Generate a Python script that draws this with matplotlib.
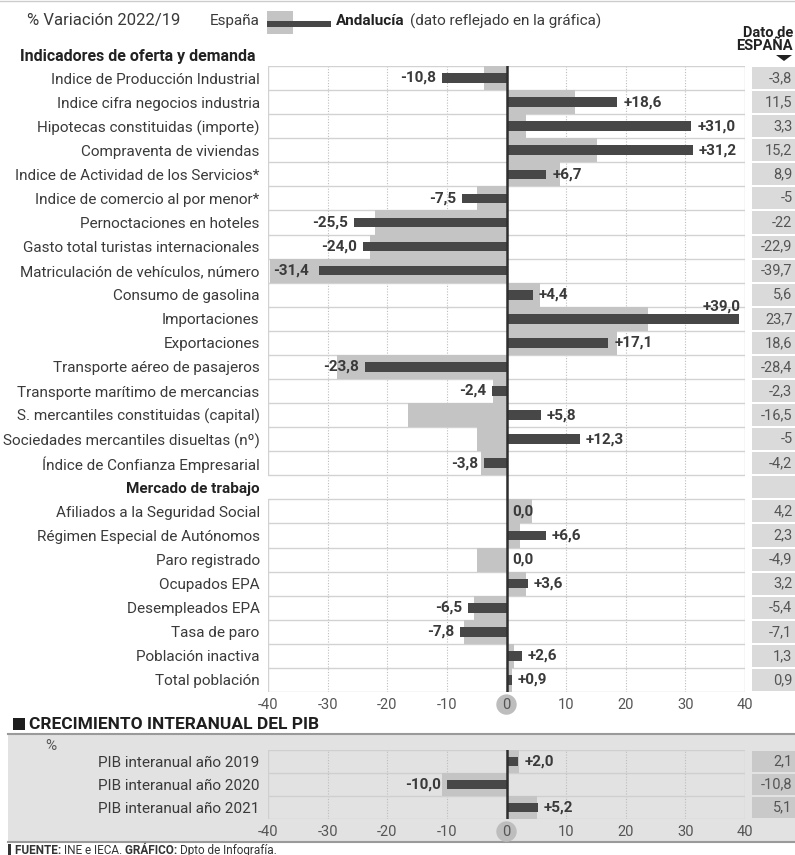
import matplotlib
matplotlib.use("Agg")
import matplotlib.pyplot as plt
from matplotlib.patches import Rectangle, Polygon

plt.rcParams['font.family'] = ['Roboto', 'DejaVu Sans']

# ---- data ----
oferta_labels = [
    'Indice de Producción Industrial', 'Indice cifra negocios industria',
    'Hipotecas constituidas (importe)', 'Compraventa de viviendas',
    'Indice de Actividad de los Servicios*', 'Indice de comercio al por menor*',
    'Pernoctaciones en hoteles', 'Gasto total turistas internacionales',
    'Matriculación de vehículos, número', 'Consumo de gasolina',
    'Importaciones', 'Exportaciones', 'Transporte aéreo de pasajeros',
    'Transporte marítimo de mercancias', 'S. mercantiles constituidas (capital)',
    'Sociedades mercantiles disueltas (nº)', 'Índice de Confianza Empresarial',
]
oferta_andalucia = [-10.8, 18.6, 31.0, 31.2, 6.7, -7.5, -25.5, -24.0, -31.4, 4.4,
                    39.0, 17.1, -23.8, -2.4, 5.8, 12.3, -3.8]
oferta_espana = [-3.8, 11.5, 3.3, 15.2, 8.9, -5, -22, -22.9, -39.7, 5.6,
                 23.7, 18.6, -28.4, -2.3, -16.5, -5, -4.2]

trabajo_labels = [
    'Afiliados a la Seguridad Social', 'Régimen Especial de Autónomos',
    'Paro registrado', 'Ocupados EPA', 'Desempleados EPA', 'Tasa de paro',
    'Población inactiva', 'Total población',
]
trabajo_andalucia = [0.0, 6.6, 0.0, 3.6, -6.5, -7.8, 2.6, 0.9]
trabajo_espana = [4.2, 2.3, -4.9, 3.2, -5.4, -7.1, 1.3, 0.9]

pib_labels = ['PIB interanual año 2019', 'PIB interanual año 2020', 'PIB interanual año 2021']
pib_andalucia = [2.0, -10.0, 5.2]
pib_espana = [2.1, -10.8, 5.1]

x_ticks = [-40, -30, -20, -10, 0, 10, 20, 30, 40]

# ---- styling ----
W, H = 795, 855
GRAY = '#c4c4c4'
DARK = '#474747'
TEXT = '#3a3a3a'
LINE = '#d2d2d2'


def fx(x):
    return x / W


def fy(y):
    return 1 - y / H


def fmt_and(v):
    if v == 0:
        return '0,0'
    return f'{v:+.1f}'.replace('.', ',')


def fmt_esp(v):
    return f'{v:g}'.replace('.', ',')


def draw_bars(ax, rows, andal, esp, box_color, dark_h=0.4):
    ax.barh(rows, esp, height=1.0, color=GRAY, zorder=2)
    ax.barh(rows, andal, height=dark_h, color=DARK, zorder=3)
    for y, a, e in zip(rows, andal, esp):
        s = fmt_and(a)
        kw = dict(fontsize=11, fontweight='bold', color=TEXT, va='center', zorder=5)
        if a > 35:
            ax.text(39.3, y - 0.5, s, ha='right', **kw)
        elif a < -30:
            ax.text(-39.2, y, s, ha='left', **kw)
        elif a >= 0:
            ax.text(a + 1.0, y, s, ha='left', **kw)
        else:
            ax.text(a - 1.0, y, s, ha='right', **kw)
        # right column with the Spanish figure
        ax.add_patch(Rectangle((41.2, y - 0.46), 7.6, 0.92, fc=box_color, ec='none',
                               clip_on=False, zorder=1))
        ax.text(47.95, y, fmt_esp(e), ha='right', va='center', fontsize=10.5,
                color='#555555', clip_on=False)


def style_axis(ax, rows, labels, ymax):
    ax.set_xlim(-40, 40)
    ax.set_ylim(ymax, -0.5)
    for s in ax.spines.values():
        s.set_visible(False)
    ax.set_xticks(x_ticks)
    ax.set_xticklabels([str(t) for t in x_ticks])
    ax.tick_params(axis='x', length=0, pad=4, labelsize=10.5, labelcolor='#555555')
    ax.set_yticks(rows)
    ax.set_yticklabels(labels)
    ax.tick_params(axis='y', length=0, pad=6, labelsize=11, labelcolor=TEXT)
    for t in ax.get_xticklabels():
        if t.get_text() == '0':
            t.set_bbox(dict(boxstyle='circle,pad=0.22', fc='#bdbdbd', ec='none'))
    for x in x_ticks[1:-1]:
        if x != 0:
            ax.axvline(x, color='#bdbdbd', lw=0.8, ls=(0, (1, 1.5)), zorder=1)
    ax.axvline(0, color='#2e2e2e', lw=1.8, zorder=4)


fig = plt.figure(figsize=(W / 100, H / 100), dpi=100)
renderer = fig.canvas.get_renderer()


def next_x(t, gap=0):
    return fig.transFigure.inverted().transform(
        (t.get_window_extent(renderer).x1 + gap, 0))[0]


# top rule
fig.add_artist(plt.Line2D([0, 1], [fy(1.5), fy(1.5)], color='#cccccc', lw=1))

# header / legend
fig.text(fx(27), fy(21), '% Variación 2022/19', fontsize=12, color=TEXT, va='center')
fig.text(fx(210), fy(21), 'España', fontsize=11, color=TEXT, va='center')
fig.patches.append(Rectangle((fx(267), fy(34)), 26 / W, 23 / H, fc=GRAY, ec='none',
                             transform=fig.transFigure))
fig.patches.append(Rectangle((fx(267), fy(27)), 64 / W, 6 / H, fc=DARK, ec='none',
                             transform=fig.transFigure))
t_and = fig.text(fx(336), fy(21), 'Andalucía', fontsize=11, fontweight='bold',
                 color='#222222', va='center')
fig.text(next_x(t_and, 5), fy(21), '(dato reflejado en la gráfica)', fontsize=11,
         color=TEXT, va='center')
fig.text(fx(793), fy(33), 'Dato de', fontsize=10.5, fontweight='bold', color='#222222',
         ha='right', va='center')
fig.text(fx(793), fy(46), 'ESPAÑA', fontsize=10.5, fontweight='bold', color='#222222',
         ha='right', va='center')
fig.patches.append(Polygon([(fx(776), fy(55)), (fx(792), fy(55)), (fx(784), fy(61))],
                           closed=True, fc='#222222', ec='none', transform=fig.transFigure))
fig.text(fx(20), fy(56), 'Indicadores de oferta y demanda', fontsize=11.5,
         fontweight='bold', color='#222222', va='center')

# ---- main chart ----
ax = fig.add_axes([fx(268), fy(692), 477 / W, 626 / H])
ax.set_facecolor('none')
n1 = len(oferta_labels)
rows1 = list(range(n1))
header_row = n1
rows2 = [n1 + 1 + i for i in range(len(trabajo_labels))]
all_rows = rows1 + [header_row] + rows2
all_labels = oferta_labels + ['Mercado de trabajo'] + trabajo_labels
style_axis(ax, all_rows, all_labels, rows2[-1] + 0.5)
for t in ax.get_yticklabels():
    if t.get_text() == 'Mercado de trabajo':
        t.set_fontweight('bold')
        t.set_color('#222222')

for r in rows1[:-1] + rows2[:-1]:
    ax.hlines(r + 0.5, -40, 40, color=LINE, lw=1, zorder=1)
ax.add_patch(Rectangle((-40, -0.5), 80, n1, fill=False, ec=LINE, lw=1, zorder=1))
ax.add_patch(Rectangle((-40, rows2[0] - 0.5), 80, len(rows2), fill=False, ec=LINE,
                       lw=1, zorder=1))
ax.add_patch(Rectangle((41.2, header_row - 0.46), 7.6, 0.92, fc='#dadada', ec='none',
                       clip_on=False, zorder=1))
draw_bars(ax, rows1, oferta_andalucia, oferta_espana, '#dadada')
draw_bars(ax, rows2, trabajo_andalucia, trabajo_espana, '#dadada')

# ---- PIB section ----
fig.patches.append(Rectangle((fx(13), fy(730)), 12 / W, 12 / H, fc='#1e1e1e', ec='none',
                             transform=fig.transFigure))
fig.text(fx(29), fy(724), 'CRECIMIENTO INTERANUAL DEL PIB', fontsize=12.5,
         fontweight='bold', color='#1e1e1e', va='center')
panel = Rectangle((fx(8), fy(842)), 1, 108 / H, fc='#e2e2e2', ec='none',
                  transform=fig.transFigure, zorder=-5)
fig.patches.append(panel)
fig.add_artist(plt.Line2D([fx(8), 1], [fy(734), fy(734)], color='#9a9a9a', lw=1.5))
fig.add_artist(plt.Line2D([fx(8), 1], [fy(842), fy(842)], color='#9a9a9a', lw=1.5))
fig.text(fx(45), fy(746), '%', fontsize=11, color='#555555', va='center')

ax2 = fig.add_axes([fx(268), fy(819), 477 / W, 69 / H])
ax2.set_facecolor('none')
ax2.set_zorder(2)
rows3 = list(range(len(pib_labels)))
style_axis(ax2, rows3, pib_labels, rows3[-1] + 0.5)
for r in rows3[:-1]:
    ax2.hlines(r + 0.5, -40, 40, color='#cfcfcf', lw=1, zorder=1)
ax2.add_patch(Rectangle((-40, -0.5), 80, len(rows3), fill=False, ec='#cfcfcf', lw=1,
                        zorder=1))
draw_bars(ax2, rows3, pib_andalucia, pib_espana, '#c9c9c9', dark_h=0.36)

# ---- footer ----
fig.patches.append(Rectangle((fx(8), fy(855)), 3 / W, 11 / H, fc='#333333', ec='none',
                             transform=fig.transFigure))
x = fx(15)
for part, weight in [('FUENTE: ', 'bold'), ('INE e IECA. ', 'normal'),
                     ('GRÁFICO: ', 'bold'), ('Dpto de Infografía.', 'normal')]:
    t = fig.text(x, fy(850), part, fontsize=8.5, fontweight=weight, color='#333333',
                 va='center')
    x = next_x(t)

fig.savefig('out.png', dpi=100)
